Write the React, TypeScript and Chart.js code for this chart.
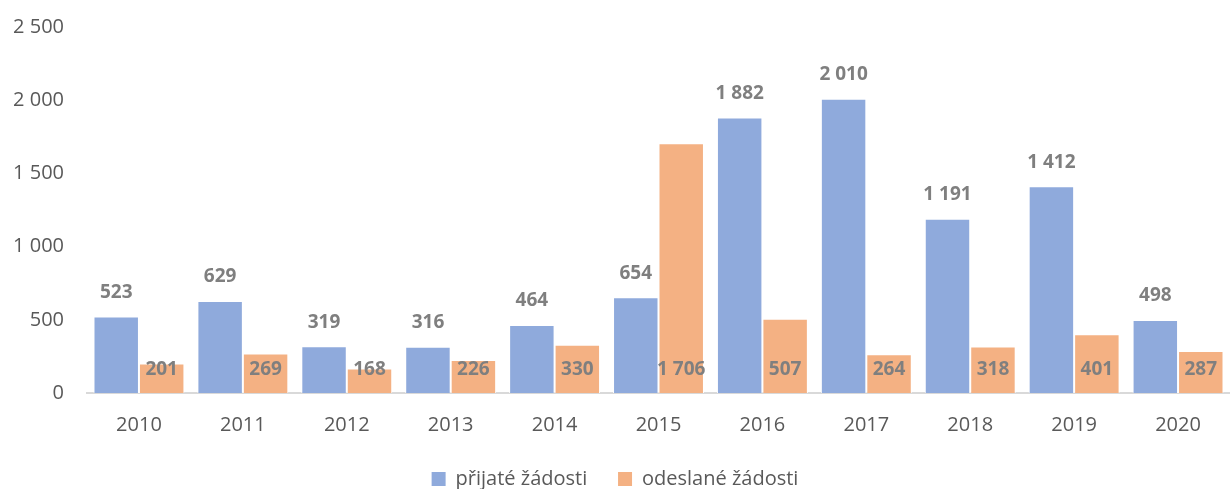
import React, { useEffect, useRef } from "react";
import { Chart, registerables } from "chart.js";

Chart.register(...registerables);

const categories = ["2010", "2011", "2012", "2013", "2014", "2015", "2016", "2017", "2018", "2019", "2020"];
const received = [523, 629, 319, 316, 464, 654, 1882, 2010, 1191, 1412, 498];
const sent = [201, 269, 168, 226, 330, 1706, 507, 264, 318, 401, 287];
const seriesNames = ["přijaté žádosti", "odeslané žádosti"];

const FONT = "'Open Sans', 'Liberation Sans', sans-serif";
const fmt = (v: number) => String(v).replace(/\B(?=(\d{3})+(?!\d))/g, " ");

const labelPlugin = {
  id: "valueLabels",
  afterLayout(chart: any) {
    if (chart.legend) {
      chart.legend.top += 10;
      chart.legend.bottom += 10;
    }
  },
  afterDatasetsDraw(chart: any) {
    const ctx = chart.ctx;
    ctx.save();
    ctx.font = `bold 19px ${FONT}`;
    ctx.fillStyle = "#7f7f7f";
    ctx.textAlign = "center";
    ctx.textBaseline = "middle";
    const base = chart.scales.y.getPixelForValue(0);
    chart.data.datasets.forEach((ds: any, di: number) => {
      const meta = chart.getDatasetMeta(di);
      meta.data.forEach((bar: any, i: number) => {
        const v = ds.data[i];
        if (di === 0) {
          ctx.fillText(fmt(v), bar.x, bar.y - 24);
        } else {
          ctx.fillText(fmt(v), bar.x, base - 23);
        }
      });
    });
    ctx.restore();
  },
};

export default function App() {
  const ref = useRef<HTMLCanvasElement>(null);
  useEffect(() => {
    if (!ref.current) return;
    const chart = new Chart(ref.current, {
      type: "bar",
      data: {
        labels: categories,
        datasets: [
          {
            label: seriesNames[0],
            data: received,
            backgroundColor: "#8faadc",
            borderColor: "#ffffff",
            borderWidth: 1,
            categoryPercentage: 0.875,
            barPercentage: 1,
          },
          {
            label: seriesNames[1],
            data: sent,
            backgroundColor: "#f4b183",
            borderColor: "#ffffff",
            borderWidth: 1,
            categoryPercentage: 0.875,
            barPercentage: 1,
          },
        ],
      },
      options: {
        animation: false,
        responsive: true,
        maintainAspectRatio: false,
        layout: { padding: { top: 6, right: 0, bottom: 0, left: 0 } },
        scales: {
          x: {
            grid: { display: false },
            border: { display: true, color: "#d9d9d9", width: 2 },
            ticks: { color: "#595959", font: { family: FONT, size: 20 }, padding: 12 },
          },
          y: {
            min: 0,
            max: 2500,
            grid: { display: false },
            border: { display: false },
            afterFit: (s: any) => {
              s.width = 87;
            },
            ticks: {
              stepSize: 500,
              color: "#595959",
              font: { family: FONT, size: 20 },
              padding: 15,
              callback: (v: any) => fmt(Number(v)),
            },
          },
        },
        plugins: {
          legend: {
            position: "bottom",
            labels: {
              boxWidth: 14,
              boxHeight: 14,
              color: "#595959",
              font: { family: FONT, size: 20 },
              padding: 10,
              useBorderRadius: false,
              generateLabels: (c: any) => {
                const items = Chart.defaults.plugins.legend.labels.generateLabels(c);
                items.forEach((it: any, i: number) => {
                  it.lineWidth = 0;
                  if (i < items.length - 1) it.text = it.text + "    ";
                });
                return items;
              },
            },
          },
          tooltip: { enabled: false },
        },
      },
      plugins: [labelPlugin],
    });
    return () => chart.destroy();
  }, []);
  return (
    <div style={{ position: "fixed", left: 0, top: 0, width: 1230, height: 489 }}>
      <canvas ref={ref} />
    </div>
  );
}
